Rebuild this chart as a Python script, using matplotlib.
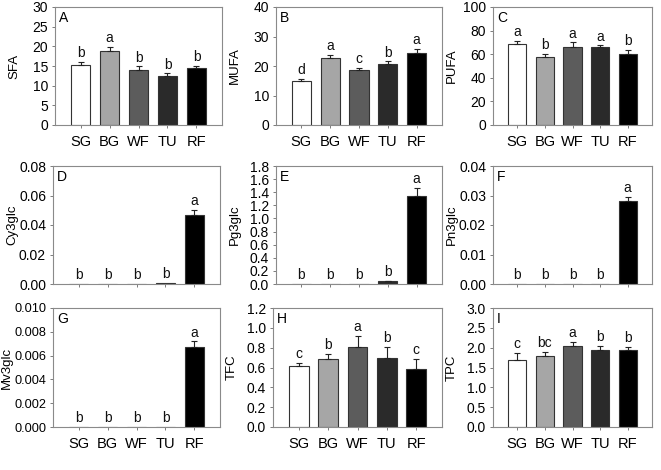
import numpy as np
import matplotlib
matplotlib.use('Agg')
import matplotlib.pyplot as plt
from matplotlib.ticker import FormatStrFormatter

plt.rcParams['font.family'] = ['Liberation Sans', 'DejaVu Sans']

groups = ['SG', 'BG', 'WF', 'TU', 'RF']
colors = ['#ffffff', '#a6a6a6', '#5c5c5c', '#2a2a2a', '#000000']

# values, errors, letters for each panel
sfa = [15.3, 18.8, 14.1, 12.5, 14.4]
sfa_err = [0.8, 1.0, 0.8, 0.6, 0.7]
sfa_let = ['b', 'a', 'b', 'b', 'b']

mufa = [14.9, 22.8, 18.5, 20.6, 24.4]
mufa_err = [0.7, 1.0, 0.8, 1.0, 1.3]
mufa_let = ['d', 'a', 'c', 'b', 'a']

pufa = [68.5, 57.5, 66.5, 66.0, 60.5]
pufa_err = [2.5, 3.0, 3.5, 1.5, 3.0]
pufa_let = ['a', 'b', 'a', 'a', 'b']

cy3glc = [0.0, 0.0, 0.0, 0.0008, 0.047]
cy3glc_err = [0.0, 0.0, 0.0, 0.0, 0.003]
cy3glc_let = ['b', 'b', 'b', 'b', 'a']

pg3glc = [0.0, 0.0, 0.0, 0.04, 1.35]
pg3glc_err = [0.0, 0.0, 0.0, 0.01, 0.12]
pg3glc_let = ['b', 'b', 'b', 'b', 'a']

pn3glc = [0.0, 0.0, 0.0, 0.0, 0.028]
pn3glc_err = [0.0, 0.0, 0.0, 0.0, 0.0015]
pn3glc_let = ['b', 'b', 'b', 'b', 'a']

mv3glc = [0.0, 0.0, 0.0, 0.0, 0.0067]
mv3glc_err = [0.0, 0.0, 0.0, 0.0, 0.0005]
mv3glc_let = ['b', 'b', 'b', 'b', 'a']

tfc = [0.62, 0.69, 0.81, 0.70, 0.58]
tfc_err = [0.03, 0.05, 0.11, 0.11, 0.11]
tfc_let = ['c', 'b', 'a', 'b', 'c']

tpc = [1.68, 1.80, 2.05, 1.95, 1.93]
tpc_err = [0.18, 0.10, 0.10, 0.10, 0.08]
tpc_let = ['c', 'bc', 'a', 'b', 'b']

panels = [
    ('A', 'SFA', sfa, sfa_err, sfa_let, 30, 5, '%d'),
    ('B', 'MUFA', mufa, mufa_err, mufa_let, 40, 10, '%d'),
    ('C', 'PUFA', pufa, pufa_err, pufa_let, 100, 20, '%d'),
    ('D', 'Cy3glc', cy3glc, cy3glc_err, cy3glc_let, 0.08, 0.02, '%.2f'),
    ('E', 'Pg3glc', pg3glc, pg3glc_err, pg3glc_let, 1.8, 0.2, '%.1f'),
    ('F', 'Pn3glc', pn3glc, pn3glc_err, pn3glc_let, 0.04, 0.01, '%.2f'),
    ('G', 'Mv3glc', mv3glc, mv3glc_err, mv3glc_let, 0.010, 0.002, '%.3f'),
    ('H', 'TFC', tfc, tfc_err, tfc_let, 1.2, 0.2, '%.1f'),
    ('I', 'TPC', tpc, tpc_err, tpc_let, 3.0, 0.5, '%.1f'),
]

fig = plt.figure(figsize=(6.61, 4.70), dpi=100)

W, H = 661.0, 470.0
# panel boxes in pixels: left, right, top, bottom
boxes = [
    (55, 222, 7, 125), (276, 442, 7, 125), (493, 652, 7, 125),
    (53, 220, 166, 284), (276, 442, 166, 284), (493, 652, 166, 284),
    (53, 220, 308, 427), (273, 442, 308, 427), (493, 652, 308, 427),
]

x = np.arange(len(groups))
for i, (tag, ylab, vals, errs, lets, ymax, step, fmt) in enumerate(panels):
    r = i // 3
    x0, x1, y0, y1 = boxes[i]
    ax = fig.add_axes([x0 / W, 1 - y1 / H, (x1 - x0) / W, (y1 - y0) / H])
    ax.bar(x, vals, width=0.66, color=colors, edgecolor='#333333', linewidth=0.8, zorder=2)
    errs = np.array(errs)
    keep = errs > 0
    ax.errorbar(x[keep], np.array(vals)[keep], yerr=[np.zeros(keep.sum()), errs[keep]],
                fmt='none', ecolor='#222222', elinewidth=0.8, capsize=2, capthick=0.8, zorder=3)
    for xi, v, e, l in zip(x, vals, errs, lets):
        ax.text(xi, v + e + ymax * 0.015, l, ha='center', va='bottom', fontsize=10, color='#111111')
    ax.set_xlim(-0.88, 4.88)
    ax.set_ylim(0, ymax)
    ax.set_yticks(np.arange(0, ymax + step / 2, step))
    ax.yaxis.set_major_formatter(FormatStrFormatter(fmt))
    ax.set_xticks(x)
    if r == 1:
        ax.set_xticklabels([])
    else:
        ax.set_xticklabels(groups, fontsize=10.5)
    ysize = 9.2 if tag == 'G' else 10
    ax.tick_params(axis='y', labelsize=ysize, length=2, width=0.6, color='#666666', pad=3)
    ax.tick_params(axis='x', length=2.5, width=0.6, color='#666666', pad=5)
    for s in ax.spines.values():
        s.set_color('#8a8a8a')
        s.set_linewidth(0.8)
    ax.set_ylabel(ylab, fontsize=9.5)
    ax.yaxis.label.set_va('center')
    off = 46.0 if tag == 'G' else 41.0
    ax.yaxis.set_label_coords(-off / (x1 - x0), 0.5)
    ax.text(0.025, 0.97, tag, transform=ax.transAxes, ha='left', va='top', fontsize=10)

fig.savefig('out.png', dpi=100)
